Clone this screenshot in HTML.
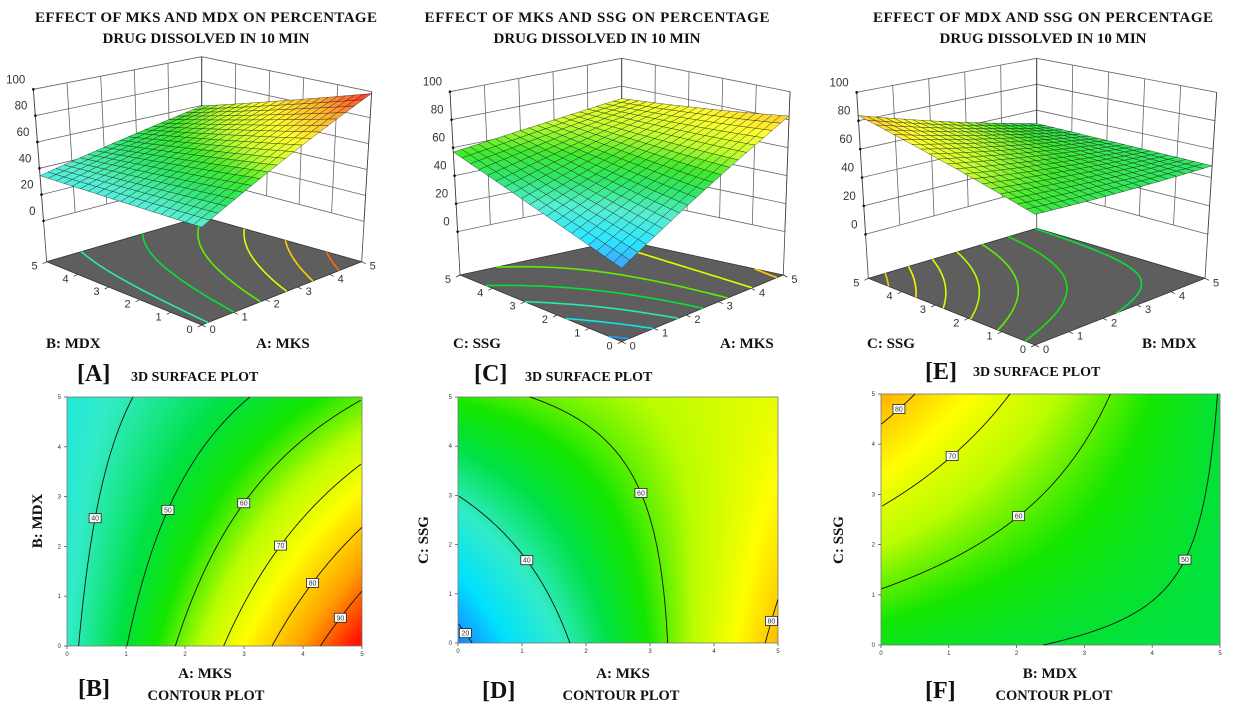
<!DOCTYPE html>
<html><head><meta charset="utf-8">
<style>
html,body{margin:0;padding:0;background:#fff;}
#wrap{position:relative;width:1256px;height:714px;overflow:hidden;background:#fff;}
canvas{position:absolute;}
svg{position:absolute;left:0;top:0;}
.t{font-family:"Liberation Serif",serif;font-weight:bold;fill:#111;}
.tk{font-family:"Liberation Sans",sans-serif;fill:#333;}
</style></head>
<body>
<div id="wrap">
<canvas id="cvB"></canvas>
<canvas id="cvD"></canvas>
<canvas id="cvF"></canvas>
<svg id="svg" width="1256" height="714" xmlns="http://www.w3.org/2000/svg">
<g>
<text class="t" x="206" y="22" font-size="15" text-anchor="middle" textLength="342">EFFECT  OF MKS AND MDX ON PERCENTAGE</text>
<text class="t" x="206" y="43" font-size="15" text-anchor="middle">DRUG DISSOLVED IN 10 MIN</text>
<text class="t" x="597" y="22" font-size="15" text-anchor="middle" textLength="345">EFFECT  OF MKS AND SSG ON PERCENTAGE</text>
<text class="t" x="597" y="43" font-size="15" text-anchor="middle">DRUG DISSOLVED IN 10 MIN</text>
<text class="t" x="1043" y="22" font-size="15" text-anchor="middle" textLength="340">EFFECT  OF MDX AND SSG ON PERCENTAGE</text>
<text class="t" x="1043" y="43" font-size="15" text-anchor="middle">DRUG DISSOLVED IN 10 MIN</text>
</g>
<g>
<text class="t" x="46" y="348" font-size="15">B: MDX</text>
<text class="t" x="256" y="348" font-size="15">A: MKS</text>
<text class="t" x="77" y="381" font-size="24" font-weight="normal">[A]</text>
<text class="t" x="131" y="381" font-size="14">3D SURFACE  PLOT</text>
<text class="t" x="453" y="348" font-size="15">C: SSG</text>
<text class="t" x="720" y="348" font-size="15">A: MKS</text>
<text class="t" x="474" y="381" font-size="24" font-weight="normal">[C]</text>
<text class="t" x="525" y="381" font-size="14">3D SURFACE  PLOT</text>
<text class="t" x="867" y="348" font-size="15">C: SSG</text>
<text class="t" x="1142" y="348" font-size="15">B: MDX</text>
<text class="t" x="925" y="379" font-size="24" font-weight="normal">[E]</text>
<text class="t" x="973" y="376" font-size="14">3D SURFACE PLOT</text>

<text class="t" x="205" y="678" font-size="15" text-anchor="middle">A: MKS</text>
<text class="t" x="78" y="696" font-size="24" font-weight="normal">[B]</text>
<text class="t" x="206" y="700" font-size="14.5" text-anchor="middle">CONTOUR PLOT</text>
<text class="t" x="0" y="0" font-size="15" text-anchor="middle" transform="translate(42,521) rotate(-90)">B: MDX</text>

<text class="t" x="623" y="678" font-size="15" text-anchor="middle">A: MKS</text>
<text class="t" x="482" y="698" font-size="24" font-weight="normal">[D]</text>
<text class="t" x="621" y="700" font-size="14.5" text-anchor="middle">CONTOUR PLOT</text>
<text class="t" x="0" y="0" font-size="15" text-anchor="middle" transform="translate(428,540) rotate(-90)">C: SSG</text>

<text class="t" x="1050" y="678" font-size="15" text-anchor="middle">B: MDX</text>
<text class="t" x="925" y="698" font-size="24" font-weight="normal">[F]</text>
<text class="t" x="1054" y="700" font-size="14.5" text-anchor="middle">CONTOUR PLOT</text>
<text class="t" x="0" y="0" font-size="15" text-anchor="middle" transform="translate(843,540) rotate(-90)">C: SSG</text>
</g>
</svg>
</div>
<script>
// Response-surface coefficients [b0, bx, by, bxy, bxx, byy]
const coefAB = [37.6, 12.2, -0.65, -1.43, 0, 0];
const coefAC = [17.1, 13.1, 7.19, -2.05, 0, 0.15];
const coefBC = [53.2, -1.66, 6.1, -1.16, 0.135, 0];
// contour levels
const levelsB = [40, 50, 60, 70, 80, 90];
const levelsD = [20, 40, 60, 80];
const levelsF = [50, 60, 70, 80];
const floorLevelsA = [40, 50, 60, 70, 80, 90];
const floorLevelsC = [20, 30, 40, 50, 60, 70, 80];
const floorLevelsE = [50, 55, 60, 65, 70, 75, 80];
const factorTicks = [0, 1, 2, 3, 4, 5];
const zTicks = [0, 20, 40, 60, 80, 100];

const NS = 'http://www.w3.org/2000/svg';
const svg = document.getElementById('svg');
function eln(tag, attrs, parent){const e=document.createElementNS(NS,tag);for(const k in attrs)e.setAttribute(k,attrs[k]);(parent||svg).appendChild(e);return e;}
function model(c, x, y){return c[0]+c[1]*x+c[2]*y+c[3]*x*y+c[4]*x*x+c[5]*y*y;}

const cstops=[[15,[30,110,255]],[27,[0,225,255]],[38,[50,235,200]],[48,[0,225,70]],[56,[20,230,0]],[65,[185,252,0]],[74,[255,255,0]],[86,[255,160,0]],[97,[255,20,0]]];
function cmapRGB(v){
  if(v<=cstops[0][0])return cstops[0][1];
  for(let i=1;i<cstops.length;i++){if(v<=cstops[i][0]){const a=cstops[i-1],b=cstops[i];const t=(v-a[0])/(b[0]-a[0]);return a[1].map((c,k)=>c+(b[1][k]-c)*t);}}
  return cstops[cstops.length-1][1];
}
function cmap(v,light){const c=cmapRGB(v).map(x=>Math.round(light?x+(255-x)*light:x));return 'rgb('+c.join(',')+')';}

// ---------- contour plots ----------
function contourPanel(id, coef, levels, box){
  const cv=document.getElementById('cv'+id);
  const W=box.x1-box.x0, H=box.y1-box.y0;
  cv.width=W;cv.height=H;cv.style.left=box.x0+'px';cv.style.top=box.y0+'px';
  const ctx=cv.getContext('2d');const img=ctx.createImageData(W,H);
  for(let py=0;py<H;py++)for(let px=0;px<W;px++){
    const x=5*px/(W-1), y=5*(1-py/(H-1));const c=cmapRGB(model(coef,x,y));const o=(py*W+px)*4;
    img.data[o]=c[0];img.data[o+1]=c[1];img.data[o+2]=c[2];img.data[o+3]=255;}
  ctx.putImageData(img,0,0);
  const sx=x=>box.x0+x/5*W, sy=y=>box.y1-y/5*H;
  const g=eln('g',{});
  
  
  eln('rect',{x:box.x0,y:box.y0,width:W,height:H,fill:'none',stroke:'#777','stroke-width':0.8},g);
  factorTicks.forEach(t=>{
    eln('line',{x1:sx(t),y1:box.y1,x2:sx(t),y2:box.y1+3,stroke:'#555','stroke-width':0.8},g);
    eln('line',{x1:box.x0,y1:sy(t),x2:box.x0-3,y2:sy(t),stroke:'#555','stroke-width':0.8},g);
    const a=eln('text',{x:sx(t),y:box.y1+10,'font-size':6,'text-anchor':'middle',class:'tk'},g);a.textContent=t;
    
    
    const b=eln('text',{x:box.x0-6,y:sy(t)+2,'font-size':6,'text-anchor':'end',class:'tk'},g);b.textContent=t;
    
    
  });
  levels.forEach(L=>{
    const pts=[];const N=300;
    for(let i=0;i<=N;i++){const y=5*i/N;let a=0,b=5,fa=model(coef,a,y)-L,fb=model(coef,b,y)-L;
      if(fa*fb>0)continue;for(let k=0;k<40;k++){const m=(a+b)/2,fm=model(coef,m,y)-L;if(fa*fm<=0){b=m;}else{a=m;fa=fm;}}
      pts.push([sx((a+b)/2),sy(y)]);}
    if(pts.length<2)return;
    const p=eln('polyline',{points:pts.map(q=>q[0].toFixed(1)+','+q[1].toFixed(1)).join(' '),fill:'none',stroke:'#111','stroke-width':0.9},g);
    
    
    let len=0;const seg=[0];for(let i=1;i<pts.length;i++){len+=Math.hypot(pts[i][0]-pts[i-1][0],pts[i][1]-pts[i-1][1]);seg.push(len);}
    let k=0;while(seg[k]<len/2)k++;const q=pts[k];
    const r=eln('rect',{x:q[0]-6,y:q[1]-4.5,width:12,height:9,fill:'#fff',stroke:'#222','stroke-width':0.8},g);
    
    
    const tx=eln('text',{x:q[0],y:q[1]+2.5,'font-size':7,'text-anchor':'middle',class:'tk'},g);tx.textContent=L;
    
    
  });
}
contourPanel('B',coefAB,levelsB,{x0:67,x1:362,y0:397,y1:646});
contourPanel('D',coefAC,levelsD,{x0:458,x1:778,y0:397,y1:643});
contourPanel('F',coefBC,levelsF,{x0:881,x1:1220,y0:394,y1:645});

// ---------- 3D surfaces ----------
const ZMIN=-31;
function geom(ox,oy,c){const m=p=>[ox+p[0]/3,oy+p[1]/3];const r={};for(const k in c)r[k]=m(c[k]);return r;}
function surfPanel(id, coef, floorLevels, G){
  const bil=(f,r,b,l,u,v)=>[0,1].map(i=>(1-u)*(1-v)*f[i]+u*(1-v)*r[i]+u*v*b[i]+(1-u)*v*l[i]);
  const P=(u,v,z)=>{const uu=u/5,vv=v/5,t=(z-ZMIN)/(100-ZMIN);
    const F=bil(G.ff,G.fr,G.fb,G.fl,uu,vv),T=bil(G.tf,G.tr,G.tb,G.tl,uu,vv);return [F[0]+(T[0]-F[0])*t,F[1]+(T[1]-F[1])*t];};
  const g=eln('g',{});
  
  
  const L=(a,b,st,w)=>eln('line',{x1:a[0].toFixed(1),y1:a[1].toFixed(1),x2:b[0].toFixed(1),y2:b[1].toFixed(1),stroke:st||'#666','stroke-width':w||0.8},g);
  const wg=eln('g',{},g);
  
  
  factorTicks.forEach(t=>{L(P(t,5,0),P(t,5,100));L(P(5,t,0),P(5,t,100));});
  zTicks.forEach(z=>{L(P(0,5,z),P(5,5,z));L(P(5,5,z),P(5,0,z));});
  L(P(0,5,ZMIN),P(0,5,100),'#444');L(P(5,0,ZMIN),P(5,0,100),'#444');L(P(5,5,ZMIN),P(5,5,100),'#444');
  const fl=[P(0,0,ZMIN),P(5,0,ZMIN),P(5,5,ZMIN),P(0,5,ZMIN)];
  const fp=eln('polygon',{points:fl.map(q=>q.join(',')).join(' '),fill:'#5e5e5e',stroke:'#333','stroke-width':0.8},g);
  
  
  const N=40;
  floorLevels.forEach(Lv=>{
    let d='';
    for(let i=0;i<N;i++)for(let j=0;j<N;j++){
      const x0=5*i/N,x1=5*(i+1)/N,y0=5*j/N,y1=5*(j+1)/N;
      const c=[[x0,y0],[x1,y0],[x1,y1],[x0,y1]];const v=c.map(q=>model(coef,q[0],q[1])-Lv);const cr=[];
      for(let k=0;k<4;k++){const a=k,b=(k+1)%4;if((v[a]<0)!==(v[b]<0)){const t=v[a]/(v[a]-v[b]);cr.push([c[a][0]+(c[b][0]-c[a][0])*t,c[a][1]+(c[b][1]-c[a][1])*t]);}}
      if(cr.length>=2){const a=P(cr[0][0],cr[0][1],ZMIN),b=P(cr[1][0],cr[1][1],ZMIN);d+='M'+a[0].toFixed(1)+' '+a[1].toFixed(1)+'L'+b[0].toFixed(1)+' '+b[1].toFixed(1);}
    }
    if(d){const p=eln('path',{d:d,stroke:cmap(Lv),'stroke-width':1.6,fill:'none'},g);
      
      }
  });
  factorTicks.forEach(t=>{
    const a=P(0,t,ZMIN);L(a,[a[0]-4,a[1]+2],'#333');
    const ta=eln('text',{x:a[0]-9,y:a[1]+8,'font-size':11,'text-anchor':'end',class:'tk'},g);ta.textContent=t;
    
    
    const b=P(t,0,ZMIN);L(b,[b[0]+4,b[1]+2],'#333');
    const tb=eln('text',{x:b[0]+8,y:b[1]+8,'font-size':11,class:'tk'},g);tb.textContent=t;
    
    
  });
  zTicks.forEach(z=>{const a=P(0,5,z);eln('circle',{cx:a[0],cy:a[1],r:1.3,fill:'#111'},g);
    const tz=eln('text',{x:a[0]-8,y:a[1]-6,'font-size':11.5,'text-anchor':'end',class:'tk'},g);tz.textContent=z;
    
    });
  const M=20,quads=[];
  for(let i=0;i<M;i++)for(let j=0;j<M;j++)quads.push([i,j]);
  quads.sort((a,b)=>(b[0]+b[1])-(a[0]+a[1]));
  const sg=eln('g',{},g);
  
  
  quads.forEach(([i,j])=>{
    const c=[[i,j],[i+1,j],[i+1,j+1],[i,j+1]].map(q=>[5*q[0]/M,5*q[1]/M]);
    const vals=c.map(q=>model(coef,q[0],q[1]));const avg=vals.reduce((s,x)=>s+x,0)/4;
    const pts=c.map((q,k)=>P(q[0],q[1],vals[k]));
    eln('polygon',{points:pts.map(q=>q[0].toFixed(1)+','+q[1].toFixed(1)).join(' '),fill:cmap(avg,0.18),stroke:'rgba(20,20,20,0.7)','stroke-width':0.5},sg);
  });
}
surfPanel('A',coefAB,floorLevelsA,geom(0,60,{ff:[605,795],fr:[1085,605],fb:[605,470],fl:[140,605],tf:[605,235],tr:[1115,95],tb:[605,-10],tl:[100,88]}));
surfPanel('C',coefAC,floorLevelsC,geom(420,60,{ff:[605,845],fr:[1090,645],fb:[605,540],fl:[120,645],tf:[605,245],tr:[1110,95],tb:[605,-5],tl:[90,95]}));
surfPanel('E',coefBC,floorLevelsE,geom(830,60,{ff:[615,855],fr:[1125,655],fb:[620,505],fl:[115,655],tf:[615,245],tr:[1160,97],tb:[620,-5],tl:[80,97]}));
</script>
</body></html>
